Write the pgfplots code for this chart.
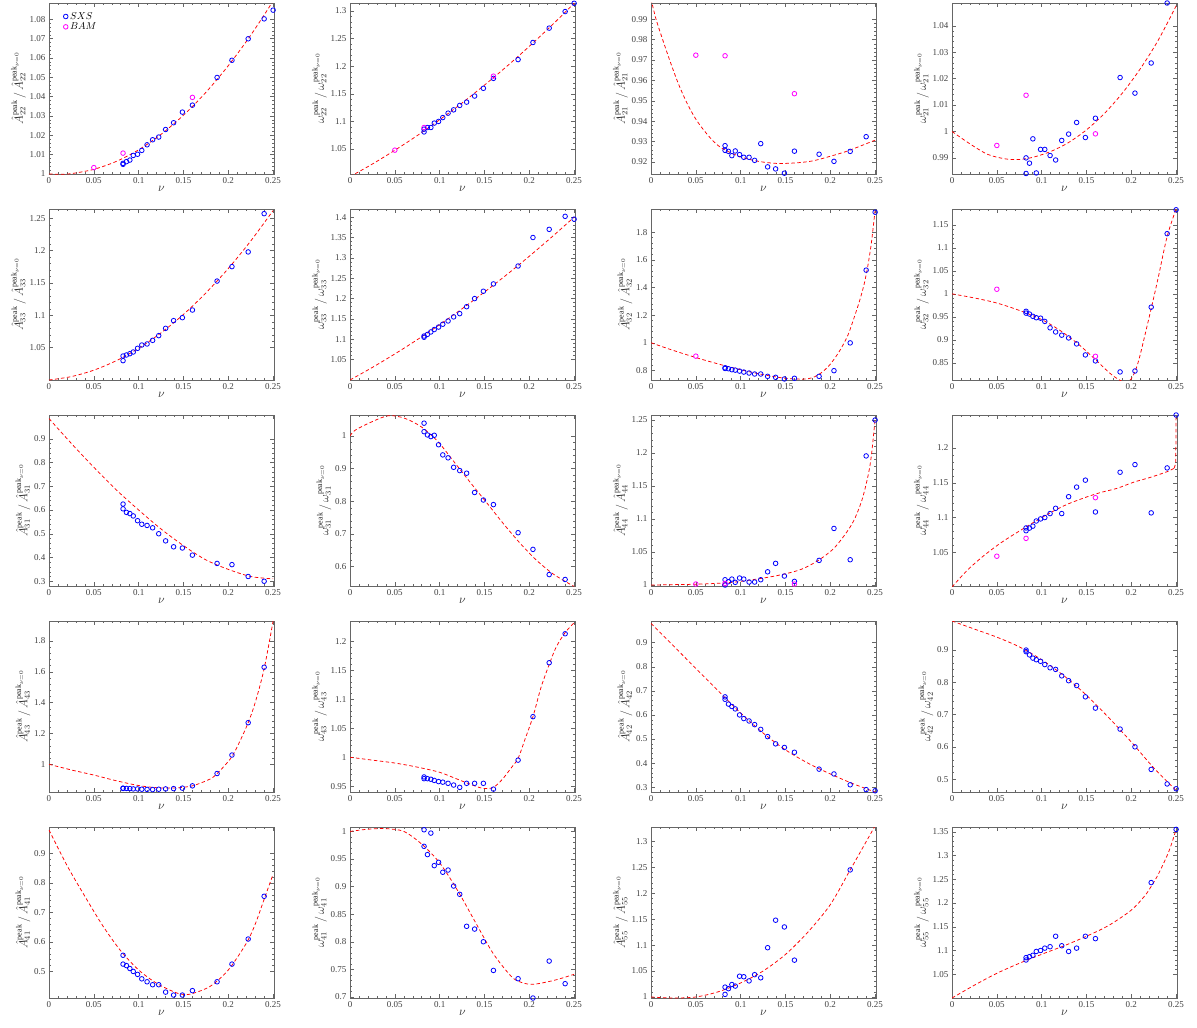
\documentclass[border=0pt]{standalone}
\usepackage{fontspec}
\setmainfont{Liberation Serif}
\usepackage{pgfplots}
\pgfplotsset{compat=1.18}
\usepgfplotslibrary{groupplots}
\definecolor{mblue}{rgb}{0,0,1}
\definecolor{mmag}{rgb}{1,0,1}
\definecolor{mred}{rgb}{1,0,0}
\pgfplotsset{
 fitl/.style={mred, line width=0.75pt, dash pattern=on 3.5pt off 2.5pt, smooth, no marks},
 fits/.style={mred, line width=0.75pt, dash pattern=on 3.5pt off 2.5pt, no marks},
 sxs/.style={only marks, mark=o, mark size=2.3pt, mblue, line width=0.8pt},
 bam/.style={only marks, mark=o, mark size=2.3pt, mmag, line width=0.8pt},
}
\newcommand{\Alab}[1]{$\hat{A}^{\mathrm{peak}}_{#1}\,/\,\hat{A}^{\mathrm{peak}_{\nu=0}}_{#1}$}
\newcommand{\wlab}[1]{$\omega^{\mathrm{peak}}_{#1}\,/\,\omega^{\mathrm{peak}_{\nu=0}}_{#1}$}
\begin{document}
\begin{tikzpicture}
\begin{groupplot}[
 group style={group size=4 by 5, horizontal sep=76pt, vertical sep=35pt, group name=G},
 width=225pt, height=171pt, scale only axis,
 xmin=0, xmax=0.251,
 xtick={0,0.05,0.1,0.15,0.2,0.25},
 xlabel={$\nu$},
 tick align=inside, minor tick num=4,
 major tick length=4pt, minor tick length=2pt,
 axis line style={black!60, line width=0.6pt},
 every tick/.style={black!60, line width=0.45pt},
 tick label style={font=\fontsize{9}{10}\selectfont, text=black!75},
 label style={font=\large, text=black!85},
 /pgf/number format/fixed, /pgf/number format/precision=3,
 /pgf/number format/assume math mode=true,
 clip mode=individual,
 xlabel style={yshift=4pt},
 ylabel style={yshift=-3pt},
]
% ---- row 1 ----
\nextgroupplot[ymin=1, ymax=1.0884, ytick={1,1.01,1.02,1.03,1.04,1.05,1.06,1.07,1.08}, ylabel={\Alab{22}},
 legend style={draw=none, fill=none, at={(0.05,0.97)}, anchor=north west, font=\normalsize, row sep=-2pt}, legend cell align=left]
\addplot[fitl, forget plot] coordinates {(0,1.0)(0.0125,0.99987)(0.025,1.0002)(0.05,1.0024)(0.075,1.0065)(0.1,1.0125)(0.125,1.0205)(0.15,1.0304)(0.175,1.0422)(0.2,1.056)(0.225,1.0717)(0.25,1.0894)};
\addplot[sxs] coordinates {(0.0826,1.0055)(0.0826,1.005)(0.0864,1.0064)(0.0902,1.0072)(0.094,1.0096)(0.0988,1.0102)(0.1035,1.0122)(0.1094,1.0151)(0.1156,1.0177)(0.1224,1.0191)(0.1301,1.023)(0.139,1.0265)(0.1488,1.032)(0.16,1.0356)(0.1875,1.0499)(0.2041,1.0588)(0.2222,1.0699)(0.24,1.0802)(0.25,1.0847)};
\addplot[bam] coordinates {(0.05,1.0033)(0.0826,1.0108)(0.16,1.0396)};
\legend{$SXS$,$BAM$}

\nextgroupplot[ymin=1.0048, ymax=1.3145, ytick={1.05,1.1,1.15,1.2,1.25,1.3}, ylabel={\wlab{22}}]
\addplot[fitl] coordinates {(0,1.0)(0.025,1.0229)(0.05,1.0478)(0.075,1.0744)(0.1,1.103)(0.125,1.1334)(0.15,1.1658)(0.175,1.1999)(0.2,1.236)(0.225,1.2739)(0.25,1.3138)};
\addplot[sxs] coordinates {(0.0826,1.081)(0.0826,1.086)(0.0864,1.089)(0.0902,1.089)(0.094,1.097)(0.0988,1.100)(0.1035,1.107)(0.1094,1.115)(0.1156,1.121)(0.1224,1.129)(0.1301,1.135)(0.139,1.146)(0.1488,1.160)(0.16,1.178)(0.1875,1.212)(0.2041,1.243)(0.2222,1.269)(0.24,1.299)(0.25,1.314)};
\addplot[bam] coordinates {(0.05,1.048)(0.0826,1.089)(0.16,1.182)};

\nextgroupplot[ymin=0.9141, ymax=0.998, ytick={0.92,0.93,0.94,0.95,0.96,0.97,0.98,0.99}, ylabel={\Alab{21}}]
\addplot[fitl] coordinates {(0,1.0)(0.005,0.991)(0.01,0.984)(0.02,0.971)(0.03,0.959)(0.04,0.949)(0.05,0.941)(0.06,0.935)(0.07,0.930)(0.08,0.9265)(0.1,0.9225)(0.12,0.9203)(0.14,0.9193)(0.16,0.9195)(0.18,0.9205)(0.2,0.9228)(0.22,0.9255)(0.25,0.9307)};
\addplot[sxs] coordinates {(0.0826,0.928)(0.0826,0.9257)(0.0864,0.9252)(0.0902,0.9231)(0.094,0.9254)(0.0988,0.9236)(0.1035,0.9223)(0.1094,0.9223)(0.1156,0.9208)(0.1224,0.929)(0.1301,0.9176)(0.139,0.9166)(0.1488,0.9145)(0.16,0.9253)(0.1875,0.9238)(0.2041,0.9203)(0.2222,0.9252)(0.24,0.9324)};
\addplot[bam] coordinates {(0.05,0.9724)(0.0826,0.9721)(0.16,0.9535)};

\nextgroupplot[ymin=0.9839, ymax=1.0486, ytick={0.99,1,1.01,1.02,1.03,1.04}, ylabel={\wlab{21}}]
\addplot[fitl] coordinates {(0,1.0)(0.02,0.9953)(0.04,0.9913)(0.06,0.9896)(0.075,0.9894)(0.09,0.9902)(0.11,0.9924)(0.13,0.9958)(0.15,1.0006)(0.17,1.0068)(0.19,1.0145)(0.21,1.0237)(0.23,1.0345)(0.25,1.0475)};
\addplot[sxs] coordinates {(0.0826,0.99)(0.0826,0.9841)(0.0864,0.988)(0.0902,0.9972)(0.094,0.9843)(0.0988,0.9932)(0.1035,0.9932)(0.1094,0.9909)(0.1156,0.9892)(0.1224,0.9966)(0.1301,0.999)(0.139,1.0034)(0.1488,0.9977)(0.16,1.005)(0.1875,1.0204)(0.2041,1.0145)(0.2222,1.0259)(0.24,1.0486)};
\addplot[bam] coordinates {(0.05,0.9947)(0.0826,1.0137)(0.16,0.9991)};
% ---- row 2 ----
\nextgroupplot[ymin=1.0, ymax=1.2644, ytick={1.05,1.1,1.15,1.2,1.25}, ylabel={\Alab{33}}]
\addplot[fitl] coordinates {(0,1.0)(0.025,1.0053)(0.05,1.0152)(0.075,1.0298)(0.1,1.049)(0.125,1.0729)(0.15,1.1014)(0.175,1.1346)(0.2,1.1724)(0.225,1.2149)(0.25,1.262)};
\addplot[sxs] coordinates {(0.0826,1.0299)(0.0826,1.0371)(0.0864,1.0387)(0.0902,1.0407)(0.094,1.0433)(0.0988,1.049)(0.1035,1.0541)(0.1094,1.0557)(0.1156,1.0613)(0.1224,1.0686)(0.1301,1.0799)(0.139,1.0918)(0.1488,1.0964)(0.16,1.1082)(0.1875,1.153)(0.2041,1.1753)(0.2222,1.198)(0.24,1.2572)};

\nextgroupplot[ymin=1.0, ymax=1.42, ytick={1.05,1.1,1.15,1.2,1.25,1.3,1.35,1.4}, ylabel={\wlab{33}}]
\addplot[fitl] coordinates {(0,1.0)(0.025,1.031)(0.05,1.064)(0.075,1.099)(0.1,1.136)(0.125,1.175)(0.15,1.216)(0.175,1.259)(0.2,1.304)(0.225,1.351)(0.25,1.4)};
\addplot[sxs] coordinates {(0.0826,1.105)(0.0826,1.108)(0.0864,1.112)(0.0902,1.118)(0.094,1.124)(0.0988,1.13)(0.1035,1.137)(0.1094,1.145)(0.1156,1.155)(0.1224,1.163)(0.1301,1.18)(0.139,1.2)(0.1488,1.218)(0.16,1.236)(0.1875,1.28)(0.2041,1.35)(0.2222,1.37)(0.24,1.402)(0.25,1.395)};

\nextgroupplot[ymin=0.7306, ymax=1.967, ytick={0.8,1,1.2,1.4,1.6,1.8}, ylabel={\Alab{32}}]
\addplot[fitl] coordinates {(0,1.0)(0.02,0.955)(0.04,0.913)(0.06,0.874)(0.08,0.838)(0.1,0.805)(0.12,0.776)(0.14,0.752)(0.155,0.740)(0.17,0.737)(0.18,0.747)(0.19,0.783)(0.198,0.83)(0.205,0.888)(0.2125,0.964)(0.22,1.06)(0.227,1.19)(0.233,1.31)(0.238,1.43)(0.242,1.56)(0.246,1.73)(0.25,1.96)};
\addplot[sxs] coordinates {(0.0826,0.819)(0.0826,0.814)(0.0864,0.812)(0.0902,0.805)(0.094,0.802)(0.0988,0.795)(0.1035,0.788)(0.1094,0.781)(0.1156,0.774)(0.1224,0.774)(0.1301,0.757)(0.139,0.75)(0.1488,0.738)(0.16,0.743)(0.1875,0.757)(0.2041,0.798)(0.2222,0.999)(0.24,1.525)(0.25,1.944)};
\addplot[bam] coordinates {(0.05,0.903)};

\nextgroupplot[ymin=0.8124, ymax=1.1847, ytick={0.85,0.9,0.95,1,1.05,1.1,1.15}, ylabel={\wlab{32}}]
\addplot[fitl] coordinates {(0,1.0)(0.025,0.991)(0.05,0.980)(0.075,0.964)(0.1,0.944)(0.12,0.921)(0.14,0.892)(0.16,0.857)(0.17,0.838)(0.18,0.821)(0.19,0.809)(0.195,0.808)(0.2,0.815)(0.205,0.835)(0.21,0.868)(0.2222,0.968)(0.23,1.035)(0.24,1.125)(0.25,1.185)};
\addplot[sxs] coordinates {(0.0826,0.962)(0.0826,0.958)(0.0864,0.956)(0.0902,0.951)(0.094,0.948)(0.0988,0.947)(0.1035,0.940)(0.1094,0.926)(0.1156,0.917)(0.1224,0.910)(0.1301,0.904)(0.139,0.891)(0.1488,0.867)(0.16,0.854)(0.1875,0.830)(0.2041,0.832)(0.2222,0.971)(0.24,1.131)(0.25,1.183)};
\addplot[bam] coordinates {(0.05,1.010)(0.16,0.864)};
% ---- row 3 ----
\nextgroupplot[ymin=0.28, ymax=1.0, ytick={0.3,0.4,0.5,0.6,0.7,0.8,0.9}, ylabel={\Alab{31}}]
\addplot[fitl] coordinates {(0,0.985)(0.025,0.88)(0.05,0.78)(0.075,0.685)(0.1,0.6)(0.125,0.52)(0.15,0.45)(0.175,0.39)(0.2,0.35)(0.225,0.32)(0.25,0.31)};
\addplot[sxs] coordinates {(0.0826,0.625)(0.0826,0.605)(0.0864,0.59)(0.0902,0.585)(0.094,0.575)(0.0988,0.555)(0.1035,0.54)(0.1094,0.535)(0.1156,0.525)(0.1224,0.5)(0.1301,0.47)(0.139,0.445)(0.1488,0.44)(0.16,0.41)(0.1875,0.375)(0.2041,0.37)(0.2222,0.32)(0.24,0.3)};

\nextgroupplot[ymin=0.541, ymax=1.064, ytick={0.6,0.7,0.8,0.9,1}, ylabel={\wlab{31}}]
\addplot[fitl] coordinates {(0,1.0)(0.006,1.018)(0.025,1.044)(0.043,1.062)(0.061,1.054)(0.08,1.027)(0.098,0.983)(0.116,0.921)(0.135,0.855)(0.153,0.794)(0.171,0.732)(0.19,0.671)(0.208,0.62)(0.226,0.579)(0.2445,0.548)(0.25,0.54)};
\addplot[sxs] coordinates {(0.0826,1.039)(0.0826,1.013)(0.0864,1.003)(0.0902,0.998)(0.094,1.002)(0.0988,0.973)(0.1035,0.942)(0.1094,0.933)(0.1156,0.904)(0.1224,0.894)(0.1301,0.886)(0.139,0.827)(0.1488,0.804)(0.16,0.790)(0.1875,0.704)(0.2041,0.653)(0.2222,0.576)(0.24,0.561)};

\nextgroupplot[ymin=0.9985, ymax=1.2576, ytick={1,1.05,1.1,1.15,1.2,1.25}, ylabel={\Alab{44}}]
\addplot[fitl] coordinates {(0,1.0)(0.05,1.0012)(0.08,1.003)(0.1,1.0055)(0.13,1.0116)(0.15,1.017)(0.168,1.024)(0.186,1.0368)(0.205,1.057)(0.224,1.092)(0.235,1.1275)(0.2425,1.168)(0.246,1.198)(0.25,1.251)};
\addplot[sxs] coordinates {(0.0826,1.008)(0.0826,1.0)(0.0864,1.005)(0.0902,1.009)(0.094,1.004)(0.0988,1.0106)(0.1035,1.009)(0.1094,1.0045)(0.1156,1.0045)(0.1224,1.008)(0.1301,1.020)(0.139,1.0328)(0.1488,1.0136)(0.16,1.0055)(0.1875,1.0373)(0.2041,1.0857)(0.2222,1.0383)(0.24,1.1956)(0.25,1.25)};
\addplot[bam] coordinates {(0.05,1.0015)(0.0826,1.0025)(0.16,1.0015)};

\nextgroupplot[ymin=1.0014, ymax=1.2476, ytick={1.05,1.1,1.15,1.2}, ylabel={\wlab{44}}]
\addplot[fitl] coordinates {(0,1.0)(0.0168,1.0238)(0.0354,1.045)(0.055,1.064)(0.0727,1.0786)(0.091,1.093)(0.11,1.1071)(0.1285,1.119)(0.15,1.1295)(0.1658,1.136)(0.184,1.142)(0.203,1.151)(0.2217,1.158)(0.24,1.166)(0.2478,1.171)};
\addplot[fits] coordinates {(0.2478,1.171)(0.2496,1.178)(0.25,1.25)};
\addplot[sxs] coordinates {(0.0826,1.081)(0.0826,1.085)(0.0864,1.0848)(0.0902,1.0876)(0.094,1.095)(0.0988,1.098)(0.1035,1.10)(0.1094,1.1057)(0.1156,1.1133)(0.1224,1.1057)(0.1301,1.13)(0.139,1.1438)(0.1488,1.1538)(0.16,1.108)(0.1875,1.1652)(0.2041,1.1762)(0.2222,1.1067)(0.24,1.1714)(0.25,1.2476)};
\addplot[bam] coordinates {(0.05,1.0443)(0.0826,1.07)(0.16,1.1286)};
% ---- row 4 ----
\nextgroupplot[ymin=0.82, ymax=1.93, ytick={1,1.2,1.4,1.6,1.8}, ylabel={\Alab{43}}]
\addplot[fitl] coordinates {(0,1.0)(0.025,0.963)(0.05,0.93)(0.075,0.893)(0.1,0.862)(0.12,0.848)(0.14,0.846)(0.16,0.86)(0.18,0.905)(0.1875,0.94)(0.195,0.985)(0.2041,1.05)(0.213,1.15)(0.2222,1.27)(0.23,1.4)(0.24,1.62)(0.25,1.93)};
\addplot[sxs] coordinates {(0.0826,0.845)(0.0826,0.843)(0.0864,0.843)(0.0902,0.842)(0.094,0.84)(0.0988,0.84)(0.1035,0.838)(0.1094,0.837)(0.1156,0.836)(0.1224,0.838)(0.1301,0.84)(0.139,0.842)(0.1488,0.845)(0.16,0.86)(0.1875,0.94)(0.2041,1.06)(0.2222,1.27)(0.24,1.63)};

\nextgroupplot[ymin=0.94, ymax=1.235, ytick={0.95,1,1.05,1.1,1.15,1.2}, ylabel={\wlab{43}}]
\addplot[fitl] coordinates {(0,1.0)(0.025,0.995)(0.05,0.99)(0.075,0.983)(0.1,0.974)(0.12,0.962)(0.14,0.95)(0.15,0.946)(0.16,0.948)(0.17,0.962)(0.18,0.982)(0.1875,0.998)(0.195,1.03)(0.2041,1.07)(0.213,1.12)(0.2222,1.16)(0.23,1.19)(0.24,1.215)(0.25,1.232)};
\addplot[sxs] coordinates {(0.0826,0.966)(0.0826,0.963)(0.0864,0.963)(0.0902,0.962)(0.094,0.96)(0.0988,0.958)(0.1035,0.957)(0.1094,0.955)(0.1156,0.952)(0.1224,0.948)(0.1301,0.955)(0.139,0.955)(0.1488,0.955)(0.16,0.945)(0.1875,0.995)(0.2041,1.07)(0.2222,1.163)(0.24,1.213)};

\nextgroupplot[ymin=0.28, ymax=0.99, ytick={0.3,0.4,0.5,0.6,0.7,0.8,0.9}, ylabel={\Alab{42}}]
\addplot[fitl] coordinates {(0,0.98)(0.025,0.887)(0.05,0.793)(0.075,0.7)(0.1,0.608)(0.125,0.525)(0.15,0.455)(0.175,0.4)(0.2,0.355)(0.225,0.315)(0.25,0.28)};
\addplot[sxs] coordinates {(0.0826,0.675)(0.0826,0.665)(0.0864,0.645)(0.0902,0.635)(0.094,0.625)(0.0988,0.6)(0.1035,0.585)(0.1094,0.575)(0.1156,0.56)(0.1224,0.54)(0.1301,0.51)(0.139,0.48)(0.1488,0.465)(0.16,0.445)(0.1875,0.375)(0.2041,0.355)(0.2222,0.31)(0.24,0.29)(0.25,0.285)};

\nextgroupplot[ymin=0.46, ymax=0.99, ytick={0.5,0.6,0.7,0.8,0.9}, ylabel={\wlab{42}}]
\addplot[fitl] coordinates {(0,0.99)(0.025,0.965)(0.05,0.94)(0.075,0.91)(0.1,0.87)(0.125,0.82)(0.15,0.76)(0.175,0.69)(0.2,0.615)(0.225,0.535)(0.25,0.465)};
\addplot[sxs] coordinates {(0.0826,0.9)(0.0826,0.895)(0.0864,0.885)(0.0902,0.875)(0.094,0.87)(0.0988,0.865)(0.1035,0.855)(0.1094,0.845)(0.1156,0.84)(0.1224,0.82)(0.1301,0.805)(0.139,0.79)(0.1488,0.755)(0.16,0.72)(0.1875,0.655)(0.2041,0.6)(0.2222,0.53)(0.24,0.485)(0.25,0.47)};
% ---- row 5 ----
\nextgroupplot[ymin=0.41, ymax=0.99, ytick={0.5,0.6,0.7,0.8,0.9}, ylabel={\Alab{41}}]
\addplot[fitl] coordinates {(0,0.98)(0.02,0.86)(0.04,0.755)(0.06,0.655)(0.08,0.57)(0.1,0.505)(0.12,0.46)(0.14,0.43)(0.15,0.422)(0.16,0.425)(0.18,0.45)(0.2,0.505)(0.22,0.595)(0.23,0.66)(0.24,0.745)(0.25,0.83)};
\addplot[sxs] coordinates {(0.0826,0.555)(0.0826,0.525)(0.0864,0.52)(0.0902,0.51)(0.094,0.5)(0.0988,0.49)(0.1035,0.475)(0.1094,0.465)(0.1156,0.455)(0.1224,0.455)(0.1301,0.43)(0.139,0.42)(0.1488,0.42)(0.16,0.435)(0.1875,0.465)(0.2041,0.525)(0.2222,0.61)(0.24,0.755)};

\nextgroupplot[ymin=0.698, ymax=1.008, ytick={0.7,0.75,0.8,0.85,0.9,0.95,1}, ylabel={\wlab{41}}]
\addplot[fitl] coordinates {(0,1.0)(0.02,1.004)(0.04,1.005)(0.06,1.0)(0.08,0.977)(0.1,0.943)(0.12,0.893)(0.14,0.835)(0.16,0.778)(0.18,0.737)(0.19,0.727)(0.2,0.723)(0.21,0.724)(0.23,0.731)(0.25,0.741)};
\addplot[sxs] coordinates {(0.0826,1.003)(0.0826,0.973)(0.0864,0.958)(0.0902,0.997)(0.094,0.938)(0.0988,0.944)(0.1035,0.926)(0.1094,0.930)(0.1156,0.901)(0.1224,0.886)(0.1301,0.828)(0.139,0.823)(0.1488,0.80)(0.16,0.748)(0.1875,0.733)(0.2041,0.698)(0.2222,0.765)(0.24,0.724)};

\nextgroupplot[ymin=0.998, ymax=1.3277, ytick={1,1.05,1.1,1.15,1.2,1.25,1.3}, ylabel={\Alab{55}}]
\addplot[fitl] coordinates {(0,1.0)(0.025,0.998)(0.05,1.0)(0.075,1.01)(0.1,1.027)(0.125,1.05)(0.15,1.082)(0.175,1.125)(0.2,1.178)(0.2222,1.245)(0.25,1.33)};
\addplot[sxs] coordinates {(0.0826,1.005)(0.0826,1.019)(0.0864,1.016)(0.0902,1.024)(0.094,1.021)(0.0988,1.04)(0.1035,1.039)(0.1094,1.031)(0.1156,1.043)(0.1224,1.037)(0.1301,1.095)(0.139,1.148)(0.1488,1.135)(0.16,1.071)(0.2222,1.245)};

\nextgroupplot[ymin=1.0, ymax=1.36, ytick={1.05,1.1,1.15,1.2,1.25,1.3,1.35}, ylabel={\wlab{55}}]
\addplot[fitl] coordinates {(0,1.0)(0.025,1.027)(0.05,1.052)(0.075,1.073)(0.1,1.092)(0.125,1.11)(0.15,1.13)(0.175,1.153)(0.2,1.185)(0.215,1.215)(0.2222,1.235)(0.23,1.26)(0.24,1.3)(0.245,1.325)(0.25,1.355)};
\addplot[sxs] coordinates {(0.0826,1.08)(0.0826,1.085)(0.0864,1.087)(0.0902,1.09)(0.094,1.098)(0.0988,1.10)(0.1035,1.105)(0.1094,1.108)(0.1156,1.13)(0.1224,1.11)(0.1301,1.098)(0.139,1.105)(0.1488,1.13)(0.16,1.125)(0.2222,1.243)(0.25,1.355)};
\end{groupplot}
\pgfresetboundingbox
\path ([xshift=-49pt,yshift=3pt]G c1r1.north west) rectangle ([xshift=20pt,yshift=-30pt]G c4r5.south east);
\end{tikzpicture}
\end{document}
